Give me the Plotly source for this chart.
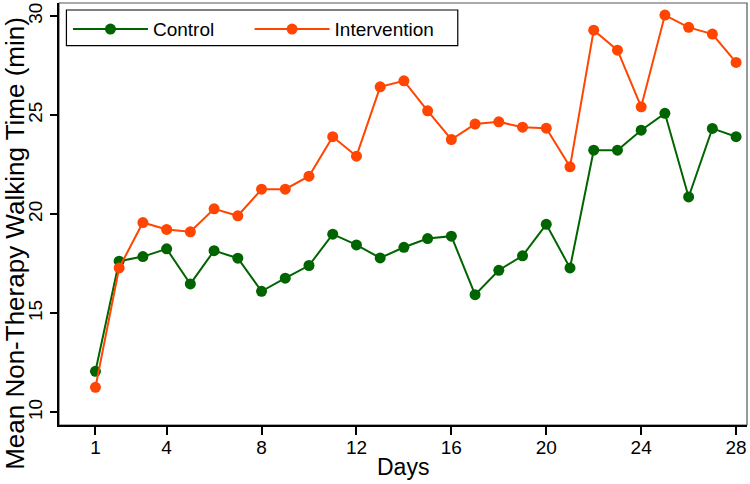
import plotly.graph_objects as go

days = list(range(1, 29))
control = [12.07, 17.63, 17.86, 18.25, 16.48, 18.16, 17.78, 16.11, 16.77, 17.41,
           18.99, 18.45, 17.79, 18.33, 18.77, 18.89, 15.94, 17.17, 17.90, 19.49,
           17.29, 23.23, 23.23, 24.24, 25.09, 20.87, 24.33, 23.91]
intervention = [11.26, 17.29, 19.58, 19.23, 19.11, 20.27, 19.92, 21.26, 21.26, 21.92,
                23.91, 22.93, 26.43, 26.73, 25.22, 23.77, 24.55, 24.66, 24.39, 24.34,
                22.39, 29.29, 28.28, 25.42, 30.05, 29.43, 29.09, 27.66]
x_ticks = [1, 4, 8, 12, 16, 20, 24, 28]
y_ticks = [10, 15, 20, 25, 30]
x_title = "Days"
y_title = "Mean Non-Therapy Walking Time (min)"

FONT = "Liberation Sans, Arial, sans-serif"
GREEN = "#006400"
ORANGE = "#FF4500"

fig = go.Figure()
fig.add_trace(go.Scatter(x=days, y=control, mode="lines+markers", name="Control",
                         line=dict(color=GREEN, width=2),
                         marker=dict(color=GREEN, size=11), legend="legend"))
fig.add_trace(go.Scatter(x=days, y=intervention, mode="lines+markers", name="Intervention",
                         line=dict(color=ORANGE, width=2),
                         marker=dict(color=ORANGE, size=11), legend="legend2"))

# plot-region frame
fig.add_shape(type="rect", xref="paper", yref="paper", x0=0, y0=0, x1=1, y1=1,
              line=dict(color="#555555", width=1.2), layer="below")
# legend frame
fig.add_shape(type="rect", xref="paper", yref="paper", x0=0.0108, y0=0.8988, x1=0.5796, y1=0.9834,
              line=dict(color="black", width=1.2), fillcolor="white", layer="below")

fig.add_annotation(text=x_title, xref="paper", yref="paper", x=0.5, y=-0.1,
                   xanchor="center", yanchor="middle", showarrow=False,
                   font=dict(size=23, family=FONT, color="black"))
fig.add_annotation(text=y_title, xref="paper", yref="paper", x=-0.0644, y=0.4309,
                   xanchor="center", yanchor="middle", showarrow=False, textangle=-90,
                   font=dict(size=26, family=FONT, color="black"))

leg_common = dict(orientation="h", yanchor="top", xanchor="left", y=0.983,
                  borderwidth=0, bgcolor="rgba(0,0,0,0)",
                  font=dict(size=19, family=FONT, color="black"), itemwidth=75)

fig.update_layout(
    width=750, height=484,
    margin=dict(l=59, r=3, t=3, b=59, autoexpand=False),
    paper_bgcolor="white", plot_bgcolor="white",
    font=dict(family=FONT, color="black", size=19),
    showlegend=True,
    legend=dict(x=0.013, **leg_common),
    legend2=dict(x=0.277, **leg_common),
    xaxis=dict(range=[-0.536, 28.46], tickvals=x_ticks, showgrid=False, zeroline=False,
               showline=True, linecolor="black", linewidth=2, automargin=False,
               ticks="outside", ticklen=8, tickwidth=1.5, tickcolor="black",
               tickfont=dict(size=19), ticklabelstandoff=-4),
    yaxis=dict(range=[9.36, 30.66], tickvals=y_ticks, showgrid=False, zeroline=False,
               showline=True, linecolor="black", linewidth=2, automargin=False,
               ticks="outside", ticklen=7, tickwidth=1.5, tickcolor="black",
               tickangle=-90, tickfont=dict(size=19), ticklabelstandoff=0),
)

fig.write_html("out.html", config={"displayModeBar": False},
               post_script="document.body.style.margin='0';document.body.style.overflow='hidden';")
